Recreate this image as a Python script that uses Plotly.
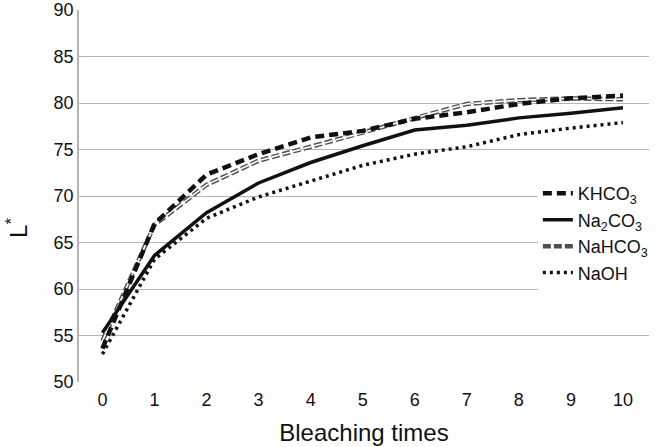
import plotly.graph_objects as go

x_times = [0, 1, 2, 3, 4, 5, 6, 7, 8, 9, 10]
khco3 = [53.6, 67.0, 72.3, 74.5, 76.3, 77.0, 78.3, 79.0, 79.9, 80.5, 80.8]
na2co3 = [55.3, 63.6, 68.2, 71.4, 73.6, 75.4, 77.1, 77.6, 78.4, 78.9, 79.5]
nahco3 = [54.4, 66.9, 71.2, 73.8, 75.3, 76.8, 78.4, 79.9, 80.3, 80.5, 80.4]
naoh = [53.0, 63.2, 67.6, 69.9, 71.6, 73.3, 74.5, 75.3, 76.6, 77.3, 77.9]
x_ticks = [str(v) for v in x_times]
y_ticks = [50, 55, 60, 65, 70, 75, 80, 85, 90]

font_family = "Liberation Sans, Arial, sans-serif"

fig = go.Figure()
fig.add_trace(go.Scatter(x=x_times, y=nahco3, mode="lines", name="NaHCO<sub>3</sub>",
                         line=dict(color="#505050", width=4.5, dash="8px,3px"),
                         legendrank=3))
fig.add_trace(go.Scatter(x=x_times, y=nahco3, mode="lines", showlegend=False,
                         hoverinfo="skip",
                         line=dict(color="#ffffff", width=1.6, dash="8px,3px")))
fig.add_trace(go.Scatter(x=x_times, y=naoh, mode="lines", name="NaOH",
                         line=dict(color="#111111", width=3.5, dash="3px,4px"),
                         legendrank=4))
fig.add_trace(go.Scatter(x=x_times, y=na2co3, mode="lines", name="Na<sub>2</sub>CO<sub>3</sub>",
                         line=dict(color="#111111", width=3.5),
                         legendrank=2))
fig.add_trace(go.Scatter(x=x_times, y=khco3, mode="lines", name="KHCO<sub>3</sub>",
                         line=dict(color="#111111", width=4.5, dash="9px,5px"),
                         legendrank=1))

fig.update_layout(
    width=664, height=447,
    margin=dict(l=79, r=11, t=10, b=65),
    paper_bgcolor="white", plot_bgcolor="white",
    font=dict(family=font_family, color="#111111", size=18),
    showlegend=True,
    legend=dict(x=0.805, y=0.556, xanchor="left", yanchor="top",
                bgcolor="white", borderwidth=0, itemwidth=30,
                font=dict(size=18), tracegroupgap=0),
    annotations=[dict(text="L<sup>*</sup>", textangle=-90, showarrow=False,
                      xref="paper", yref="paper", x=-0.11, y=0.415,
                      xanchor="center", yanchor="middle",
                      font=dict(size=24, color="#111111"))],
)
fig.update_xaxes(
    type="category", categoryorder="array", categoryarray=x_ticks,
    range=[-0.45, 10.5], automargin=False,
    showgrid=False, showline=False, zeroline=False, ticks="",
    tickfont=dict(size=18), ticklabelstandoff=5,
    title=dict(text="Bleaching times", font=dict(size=24)),
)
fig.update_yaxes(
    range=[50, 90], tickvals=y_ticks, automargin=False,
    showgrid=True, gridcolor="#b4b4b4", gridwidth=1.3,
    showline=True, linecolor="#b4b4b4", linewidth=1.5,
    zeroline=False, ticks="", ticklen=0,
    tickfont=dict(size=18),
)

fig.write_html("out.html", config={"displayModeBar": False},
               post_script="document.body.style.margin='0px';document.body.style.padding='0px';")
